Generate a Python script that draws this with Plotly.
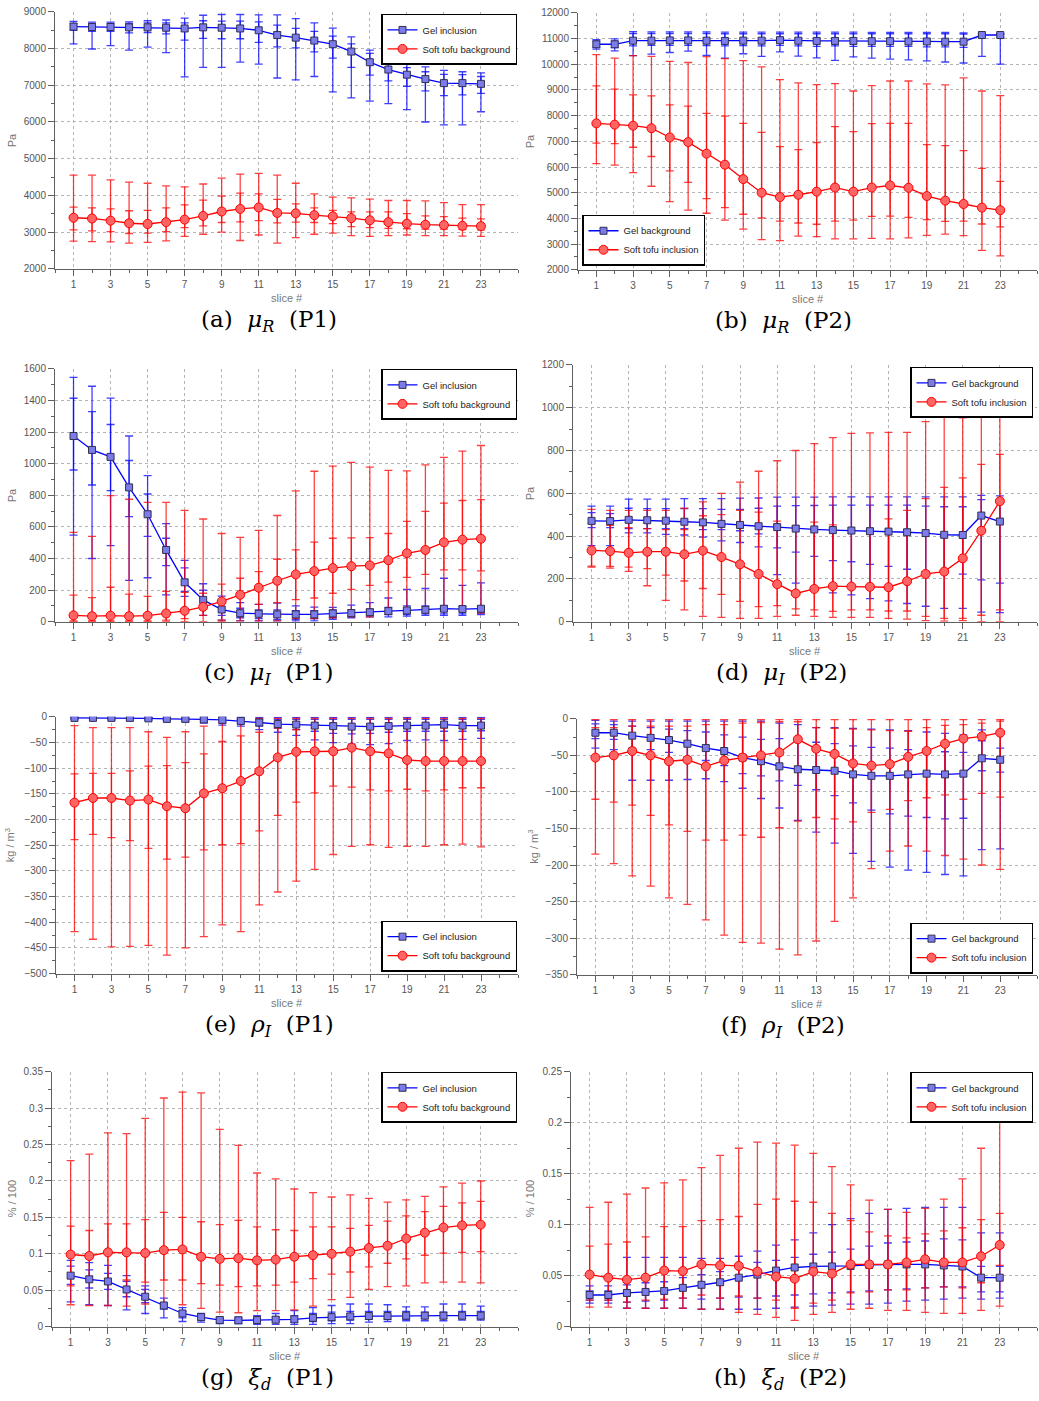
import plotly.graph_objects as go

W, H = 1039, 1401
SLICES = list(range(1, 24))

# ---------------- (a) mu_R P1 ----------------
A_BLUE = [8600,8590,8590,8580,8580,8570,8550,8580,8570,8550,8500,8370,8300,8220,8120,7920,7630,7430,7290,7170,7060,7060,7040]
A_BLUE_LO = [8130,7990,8080,7960,8040,7890,7230,7490,7490,7630,7580,7200,7150,7240,6820,6660,6570,6500,6340,6000,5920,5920,6280]
A_BLUE_HI = [8740,8720,8720,8730,8760,8780,8830,8910,8930,8930,8920,8920,8820,8700,8560,8320,7960,7720,7600,7500,7410,7370,7340]
A_BLUE_Q1 = [8500,8470,8470,8430,8440,8400,8230,8280,8270,8270,8170,8050,8020,7910,7740,7490,7280,7120,6970,6850,6720,6740,6780]
A_BLUE_Q3 = [8680,8680,8680,8690,8700,8700,8700,8760,8750,8750,8730,8640,8550,8470,8340,8130,7870,7660,7480,7370,7300,7290,7240]
A_RED = [3390,3370,3310,3240,3220,3270,3340,3440,3560,3630,3670,3520,3510,3460,3430,3380,3320,3270,3230,3200,3190,3170,3160]
A_RED_LO = [2750,2740,2730,2700,2720,2760,2880,2940,3000,2770,2920,2700,2850,2940,2970,2900,2880,2900,2920,2900,2900,2890,2880]
A_RED_HI = [4550,4550,4420,4360,4330,4260,4230,4310,4470,4580,4600,4550,4330,4040,3950,3930,3900,3860,3860,3850,3800,3750,3750]
A_RED_Q1 = [3060,3030,3010,2960,2970,3010,3120,3170,3260,3280,3310,3250,3270,3260,3230,3150,3120,3100,3090,3080,3080,3070,3060]
A_RED_Q3 = [3680,3660,3630,3580,3590,3660,3740,3870,3980,4060,4040,3890,3770,3660,3590,3550,3550,3550,3500,3440,3420,3380,3360]

# ---------------- (b) mu_R P2 ----------------
B_BLUE = [10780,10780,10920,10920,10930,10930,10920,10910,10920,10920,10940,10920,10910,10910,10910,10900,10900,10890,10890,10880,10880,11140,11140]
B_BLUE_LO = [10590,10520,10340,10400,10460,10510,10350,10240,10410,10310,10480,10320,10250,10150,10290,10240,10200,10170,10130,10090,10050,10310,10010]
B_BLUE_HI = [10960,10990,11270,11260,11260,11260,11260,11250,11250,11250,11250,11250,11250,11250,11250,11240,11240,11240,11240,11240,11220,11200,11180]
B_BLUE_Q1 = [10660,10650,10720,10740,10740,10740,10730,10720,10730,10720,10740,10720,10700,10720,10700,10700,10700,10700,10680,10680,10660,11050,11050]
B_BLUE_Q3 = [10900,10900,11200,11200,11200,11200,11200,11190,11190,11190,11190,11190,11190,11190,11190,11190,11190,11190,11190,11190,11180,11180,11180]
B_RED = [7700,7650,7610,7510,7150,6970,6520,6090,5530,5000,4830,4920,5040,5200,5040,5200,5280,5190,4870,4690,4560,4420,4320]
B_RED_LO = [6130,6070,5780,5250,4650,4320,4200,3930,3580,3170,3130,3310,3290,3200,3200,3220,3200,3240,3340,3390,3330,2750,2540]
B_RED_HI = [10380,10240,10340,10310,10110,10070,10300,10220,10140,9900,9400,9280,9210,9250,8960,9170,9350,9350,9240,9200,9470,8960,8780]
B_RED_Q1 = [6930,6910,6770,6410,5850,5400,4770,4420,4160,4020,3890,3820,3770,3890,3930,4080,4090,4040,3950,3880,3890,3780,3670]
B_RED_Q3 = [9160,9030,8810,8770,8420,8370,8090,7980,7700,7350,6790,6680,6950,7570,7380,7690,7700,7700,6870,6830,6640,5950,5440]

# ---------------- (c) mu_I P1 ----------------
C_BLUE = [1175,1087,1043,850,680,454,249,138,77,54,50,46,46,46,52,54,60,67,71,75,82,80,82]
C_BLUE_LO = [548,400,482,262,278,170,160,40,10,5,5,5,5,5,15,25,30,30,35,40,40,40,45]
C_BLUE_HI = [1546,1490,1415,1175,925,620,388,240,162,120,110,118,100,92,90,105,120,150,205,210,275,230,245]
C_BLUE_Q1 = [960,865,830,665,540,355,190,95,40,25,20,15,15,20,25,35,40,45,45,50,50,50,55]
C_BLUE_Q3 = [1414,1330,1248,1020,808,528,340,200,120,85,75,75,70,70,75,75,80,90,100,100,100,95,95]
C_RED = [40,35,38,35,38,52,69,94,128,170,215,259,299,320,339,351,356,389,433,454,502,519,525]
C_RED_LO = [0,0,0,0,0,0,0,0,0,5,5,5,20,20,25,30,30,50,60,60,70,65,55]
C_RED_HI = [565,540,798,775,755,755,705,650,558,533,578,672,828,952,985,1008,978,957,955,993,1040,1080,1115]
C_RED_Q1 = [5,5,5,5,5,10,20,40,10,70,110,120,140,150,180,205,230,250,280,300,328,328,322]
C_RED_Q3 = [168,152,218,175,160,192,185,180,238,275,317,395,455,503,528,530,532,558,635,698,750,767,773]

# ---------------- (d) mu_I P2 ----------------
D_BLUE = [471,470,476,474,472,467,464,457,452,446,442,435,431,428,426,423,421,418,414,406,405,496,468]
D_BLUE_LO = [355,355,415,415,408,405,395,378,370,350,220,180,160,135,125,108,97,85,72,62,62,45,42]
D_BLUE_HI = [540,540,573,573,573,575,575,575,577,578,582,582,582,583,583,583,583,583,583,583,583,590,588]
D_BLUE_Q1 = [440,440,435,435,435,435,430,430,425,410,345,325,305,285,280,268,258,245,235,235,222,195,180]
D_BLUE_Q3 = [510,505,530,528,528,528,528,525,525,530,540,542,543,545,545,545,545,545,540,537,537,570,565]
D_RED = [333,330,322,327,327,315,332,302,268,223,175,132,153,166,164,163,161,189,223,234,296,425,563]
D_RED_LO = [255,250,235,168,100,55,25,20,15,15,25,30,25,20,20,20,15,12,5,3,5,0,0]
D_RED_HI = [525,520,520,520,520,530,560,600,652,703,752,800,832,860,880,882,885,885,935,965,952,1022,1050]
D_RED_Q1 = [260,258,255,248,218,190,155,128,95,70,75,60,55,48,55,55,50,50,25,15,15,30,55]
D_RED_Q3 = [460,450,440,435,430,430,495,500,520,512,470,445,465,452,428,432,480,520,575,628,672,735,782]

# ---------------- (e) rho_I P1 ----------------
E_BLUE = [-2,-2,-2,-2,-3,-4,-4,-5,-6,-8,-11,-14,-15,-17,-18,-19,-19,-18,-17,-17,-15,-17,-17]
E_BLUE_LO = [-5,-6,-6,-7,-7,-8,-9,-12,-16,-18,-25,-30,-36,-45,-50,-53,-54,-52,-46,-45,-46,-44,-42]
E_BLUE_HI = [0,0,0,0,0,0,0,0,0,0,-1,-1,-1,-1,-1,-1,-1,-1,-1,-1,-1,-1,-1]
E_BLUE_Q1 = [-3,-4,-4,-4,-5,-6,-6,-8,-10,-13,-18,-22,-25,-28,-32,-33,-32,-30,-28,-28,-28,-28,-27]
E_BLUE_Q3 = [-1,-1,-1,-1,-1,-2,-2,-2,-2,-3,-4,-5,-5,-5,-5,-5,-5,-5,-5,-5,-5,-5,-5]
E_RED = [-167,-158,-158,-163,-161,-174,-178,-149,-139,-125,-106,-79,-68,-67,-67,-60,-67,-71,-84,-86,-86,-86,-86]
E_RED_LO = [-418,-433,-448,-447,-445,-464,-450,-428,-405,-418,-366,-341,-320,-297,-268,-252,-249,-254,-252,-252,-249,-248,-253]
E_RED_HI = [-17,-21,-21,-21,-29,-40,-29,-18,-12,-5,-3,-3,-3,-3,-3,-3,-3,-3,-3,-3,-3,-3,-3]
E_RED_Q1 = [-239,-229,-235,-241,-256,-277,-273,-259,-249,-247,-222,-192,-166,-148,-135,-137,-142,-144,-141,-144,-142,-138,-138]
E_RED_Q3 = [-111,-110,-110,-105,-96,-95,-89,-72,-48,-37,-30,-22,-25,-22,-22,-22,-22,-22,-22,-22,-22,-22,-22]

# ---------------- (f) rho_I P2 ----------------
F_BLUE = [-19,-19,-23,-26,-29,-34,-40,-44,-53,-58,-65,-69,-70,-71,-76,-78,-78,-76,-75,-76,-75,-54,-56]
F_BLUE_LO = [-40,-42,-84,-84,-84,-83,-82,-86,-95,-109,-122,-139,-155,-170,-184,-195,-203,-207,-210,-213,-215,-179,-178]
F_BLUE_HI = [-2,-3,-3,-3,-3,-3,-3,-3,-3,-3,-6,-8,-12,-12,-13,-14,-15,-16,-18,-20,-22,-15,-18]
F_BLUE_Q1 = [-27,-28,-40,-42,-46,-52,-57,-64,-75,-78,-85,-91,-97,-105,-115,-125,-130,-133,-135,-137,-136,-71,-73]
F_BLUE_Q3 = [-7,-8,-10,-12,-14,-16,-18,-22,-25,-28,-27,-28,-32,-34,-37,-39,-40,-42,-41,-45,-46,-30,-40]
F_RED = [-53,-50,-44,-50,-58,-56,-65,-57,-53,-50,-46,-28,-41,-48,-61,-64,-62,-52,-44,-34,-27,-24,-19]
F_RED_LO = [-185,-198,-215,-229,-245,-254,-275,-296,-306,-307,-315,-323,-304,-277,-245,-205,-181,-174,-181,-187,-192,-200,-206]
F_RED_HI = [-1,-1,-1,-1,-1,-1,-1,-1,-1,-1,-1,-1,-1,-1,-1,-1,-1,-1,-1,-1,-1,-1,-1]
F_RED_Q1 = [-110,-114,-118,-132,-145,-154,-166,-166,-159,-162,-149,-140,-135,-137,-141,-128,-124,-112,-108,-104,-110,-102,-107]
F_RED_Q3 = [-12,-12,-10,-10,-10,-10,-8,-8,-6,-5,-4,-4,-12,-13,-14,-15,-16,-17,-12,-9,-8,-6,-3]

# ---------------- (g) xi_d P1 ----------------
G_BLUE = [0.070,0.065,0.062,0.051,0.041,0.029,0.018,0.013,0.009,0.0086,0.009,0.0095,0.010,0.012,0.013,0.014,0.0145,0.0145,0.015,0.015,0.015,0.015,0.015]
G_BLUE_LO = [0.034,0.030,0.029,0.023,0.018,0.012,0.007,0.006,0.004,0.004,0.003,0.003,0.003,0.003,0.004,0.004,0.006,0.007,0.008,0.008,0.008,0.009,0.009]
G_BLUE_HI = [0.091,0.088,0.084,0.070,0.056,0.039,0.026,0.018,0.013,0.013,0.015,0.018,0.022,0.026,0.029,0.031,0.031,0.030,0.027,0.027,0.031,0.031,0.028]
G_BLUE_Q1 = [0.058,0.053,0.051,0.041,0.033,0.024,0.012,0.009,0.006,0.006,0.006,0.006,0.006,0.007,0.008,0.009,0.010,0.010,0.010,0.011,0.011,0.011,0.011]
G_BLUE_Q3 = [0.083,0.078,0.073,0.062,0.051,0.033,0.021,0.015,0.011,0.011,0.012,0.013,0.015,0.018,0.020,0.021,0.021,0.021,0.021,0.020,0.020,0.021,0.021]
G_RED = [0.099,0.097,0.102,0.102,0.101,0.105,0.106,0.096,0.093,0.094,0.091,0.092,0.096,0.098,0.100,0.103,0.108,0.111,0.121,0.129,0.136,0.139,0.140]
G_RED_LO = [0.030,0.029,0.029,0.028,0.031,0.030,0.030,0.025,0.020,0.019,0.022,0.022,0.023,0.028,0.037,0.040,0.051,0.055,0.056,0.060,0.061,0.061,0.060]
G_RED_HI = [0.228,0.237,0.266,0.265,0.286,0.314,0.322,0.321,0.271,0.249,0.211,0.203,0.189,0.184,0.178,0.181,0.176,0.171,0.174,0.179,0.192,0.197,0.200]
G_RED_Q1 = [0.056,0.064,0.063,0.064,0.061,0.064,0.064,0.059,0.057,0.055,0.056,0.057,0.061,0.066,0.072,0.075,0.082,0.087,0.093,0.098,0.101,0.102,0.103]
G_RED_Q3 = [0.138,0.132,0.141,0.141,0.147,0.157,0.150,0.144,0.140,0.146,0.137,0.133,0.132,0.137,0.137,0.135,0.139,0.145,0.152,0.158,0.165,0.170,0.172]

# ---------------- (h) xi_d P2 ----------------
H_BLUE = [0.031,0.031,0.033,0.034,0.035,0.038,0.041,0.0435,0.048,0.051,0.055,0.058,0.059,0.059,0.0595,0.0605,0.061,0.061,0.061,0.060,0.059,0.048,0.048]
H_BLUE_LO = [0.023,0.023,0.018,0.018,0.018,0.018,0.017,0.017,0.017,0.017,0.018,0.019,0.020,0.021,0.022,0.022,0.023,0.025,0.026,0.027,0.028,0.027,0.028]
H_BLUE_HI = [0.040,0.040,0.068,0.068,0.068,0.068,0.067,0.067,0.069,0.074,0.080,0.085,0.092,0.100,0.106,0.111,0.115,0.116,0.117,0.117,0.117,0.092,0.092]
H_BLUE_Q1 = [0.026,0.026,0.024,0.025,0.026,0.028,0.027,0.028,0.029,0.028,0.030,0.031,0.032,0.033,0.034,0.035,0.036,0.037,0.038,0.039,0.039,0.034,0.034]
H_BLUE_Q3 = [0.035,0.035,0.041,0.043,0.044,0.048,0.051,0.054,0.060,0.063,0.065,0.068,0.071,0.073,0.076,0.079,0.082,0.083,0.084,0.086,0.085,0.059,0.059]
H_RED = [0.051,0.048,0.046,0.048,0.055,0.0545,0.061,0.060,0.0595,0.054,0.049,0.047,0.054,0.052,0.061,0.061,0.061,0.063,0.066,0.063,0.063,0.069,0.080]
H_RED_LO = [0.019,0.019,0.018,0.018,0.018,0.018,0.017,0.017,0.014,0.012,0.009,0.006,0.012,0.014,0.017,0.018,0.016,0.016,0.014,0.013,0.013,0.016,0.020]
H_RED_HI = [0.117,0.122,0.130,0.136,0.141,0.144,0.156,0.168,0.175,0.181,0.180,0.178,0.170,0.157,0.139,0.124,0.115,0.112,0.116,0.125,0.145,0.175,0.203]
H_RED_Q1 = [0.026,0.026,0.024,0.026,0.027,0.028,0.031,0.028,0.030,0.028,0.026,0.018,0.023,0.026,0.033,0.034,0.036,0.036,0.038,0.039,0.038,0.043,0.060]
H_RED_Q3 = [0.079,0.081,0.083,0.088,0.098,0.098,0.104,0.105,0.108,0.120,0.125,0.123,0.122,0.111,0.104,0.093,0.089,0.087,0.091,0.094,0.097,0.105,0.111]

# ---------------- labels ----------------
LEFT_NAMES = ["Gel inclusion", "Soft tofu background"]
RIGHT_NAMES = ["Gel background", "Soft tofu inclusion"]
CAPTIONS = ["(a)  <i>μ</i><sub><i>R</i></sub>  (P1)", "(b)  <i>μ</i><sub><i>R</i></sub>  (P2)",
            "(c)  <i>μ</i><sub><i>I</i></sub>  (P1)", "(d)  <i>μ</i><sub><i>I</i></sub>  (P2)",
            "(e)  <i>ρ</i><sub><i>I</i></sub>  (P1)", "(f)  <i>ρ</i><sub><i>I</i></sub>  (P2)",
            "(g)  <i>ξ</i><sub><i>d</i></sub>  (P1)", "(h)  <i>ξ</i><sub><i>d</i></sub>  (P2)"]
YLABELS = ["Pa", "Pa", "Pa", "Pa", "kg / m<sup>3</sup>", "kg / m<sup>3</sup>", "% / 100", "% / 100"]
YRANGES = [(2000, 9000), (2000, 12000), (0, 1600), (0, 1200), (-500, 0), (-350, 0), (0, 0.35), (0, 0.25)]
YDTICK = [1000, 1000, 200, 200, 50, 50, 0.05, 0.05]
YFORMAT = ["d", "d", "d", "d", "d", "d", "", ""]

DATA = [
    ((A_BLUE, A_BLUE_LO, A_BLUE_HI, A_BLUE_Q1, A_BLUE_Q3), (A_RED, A_RED_LO, A_RED_HI, A_RED_Q1, A_RED_Q3)),
    ((B_BLUE, B_BLUE_LO, B_BLUE_HI, B_BLUE_Q1, B_BLUE_Q3), (B_RED, B_RED_LO, B_RED_HI, B_RED_Q1, B_RED_Q3)),
    ((C_BLUE, C_BLUE_LO, C_BLUE_HI, C_BLUE_Q1, C_BLUE_Q3), (C_RED, C_RED_LO, C_RED_HI, C_RED_Q1, C_RED_Q3)),
    ((D_BLUE, D_BLUE_LO, D_BLUE_HI, D_BLUE_Q1, D_BLUE_Q3), (D_RED, D_RED_LO, D_RED_HI, D_RED_Q1, D_RED_Q3)),
    ((E_BLUE, E_BLUE_LO, E_BLUE_HI, E_BLUE_Q1, E_BLUE_Q3), (E_RED, E_RED_LO, E_RED_HI, E_RED_Q1, E_RED_Q3)),
    ((F_BLUE, F_BLUE_LO, F_BLUE_HI, F_BLUE_Q1, F_BLUE_Q3), (F_RED, F_RED_LO, F_RED_HI, F_RED_Q1, F_RED_Q3)),
    ((G_BLUE, G_BLUE_LO, G_BLUE_HI, G_BLUE_Q1, G_BLUE_Q3), (G_RED, G_RED_LO, G_RED_HI, G_RED_Q1, G_RED_Q3)),
    ((H_BLUE, H_BLUE_LO, H_BLUE_HI, H_BLUE_Q1, H_BLUE_Q3), (H_RED, H_RED_LO, H_RED_HI, H_RED_Q1, H_RED_Q3)),
]

# plot-area boxes in pixels: (left, right, top, bottom)
BOXES = [(55, 518, 6, 265), (578, 1037, 7, 266),
         (55, 518, 366, 621), (573, 1037, 362, 621),
         (56, 518, 717, 976), (577, 1037, 719, 977),
         (52, 518, 1075, 1332), (571, 1037, 1075, 1332)]
# legend anchor: (x px, y px, xanchor, yanchor)
LEGPOS = [(517, 8, "right", "top"), (582, 262, "left", "bottom"),
          (517, 366, "right", "top"), (1033, 364, "right", "top"),
          (517, 974, "right", "bottom"), (1033, 976, "right", "bottom"),
          (517, 1075, "right", "top"), (1033, 1075, "right", "top")]
YLAB_X = [12, 530, 12, 530, 10, 533, 12, 530]
CAP_SHIFT = [-18, -24, -18, -24, -18, -24, -18, -24]

SANS = "Liberation Sans, Arial, sans-serif"
SERIF = "DejaVu Serif, Liberation Serif, serif"
AXIS_GREY = "#606060"
BLUE = "#0000ff"
RED = "#ff0000"

fig = go.Figure()
layout = dict(width=W, height=H, margin=dict(l=0, r=0, t=0, b=0),
              paper_bgcolor="white", plot_bgcolor="white", showlegend=True,
              annotations=[])


def px2x(p):
    return p / W


def px2y(p):
    return 1 - p / H


for i in range(8):
    sfx = "" if i == 0 else str(i + 1)
    xa, ya = "x" + sfx, "y" + sfx
    leg = "legend" + sfx
    names = LEFT_NAMES if i % 2 == 0 else RIGHT_NAMES
    blue, red = DATA[i]
    for (mean, lo, hi, q1, q3), rgba in ((blue, "rgba(0,0,255,0.75)"),
                                         (red, "rgba(255,0,0,0.75)")):
        outer_p = [max(h - m, 0) for h, m in zip(hi, mean)]
        outer_m = [max(m - l, 0) for m, l in zip(mean, lo)]
        inner_p = [max(h - m, 0) for h, m in zip(q3, mean)]
        inner_m = [max(m - l, 0) for m, l in zip(mean, q1)]
        for ep, em in ((outer_p, outer_m), (inner_p, inner_m)):
            fig.add_trace(go.Scatter(
                x=SLICES, y=mean, xaxis=xa, yaxis=ya, mode="markers",
                marker=dict(size=1, color="rgba(0,0,0,0)"), showlegend=False,
                hoverinfo="skip",
                error_y=dict(type="data", symmetric=False, array=ep, arrayminus=em,
                             color=rgba, thickness=1.3, width=4)))
    fig.add_trace(go.Scatter(
        x=SLICES, y=blue[0], xaxis=xa, yaxis=ya, mode="lines+markers", name=names[0],
        legend=leg, line=dict(color=BLUE, width=1.3),
        marker=dict(symbol="square", size=7, color="#7b7bea", line=dict(color="#303050", width=1))))
    fig.add_trace(go.Scatter(
        x=SLICES, y=red[0], xaxis=xa, yaxis=ya, mode="lines+markers", name=names[1],
        legend=leg, line=dict(color=RED, width=1.3),
        marker=dict(symbol="circle", size=9, color="#ff6464", line=dict(color=RED, width=1))))

    l, r, t, b = BOXES[i]
    layout["xaxis" + sfx] = dict(
        domain=[px2x(l), px2x(r)], anchor=ya, range=[0, 25],
        tickmode="array", tickvals=list(range(1, 24, 2)),
        ticks="outside", ticklen=6, tickwidth=1, tickcolor=AXIS_GREY,
        showline=True, linecolor=AXIS_GREY, linewidth=1, mirror=False,
        showgrid=True, gridcolor="#b4b4b4", griddash="dot", gridwidth=1,
        zeroline=False, tickfont=dict(family=SANS, size=10, color="#555555"),
        minor=dict(tickmode="array", tickvals=list(range(0, 26)), ticks="outside",
                   ticklen=3, tickcolor=AXIS_GREY, showgrid=False))
    y0, y1 = YRANGES[i]
    yax = dict(
        domain=[px2y(b), px2y(t)], anchor=xa, range=[y0, y1],
        dtick=YDTICK[i], tick0=0, ticks="outside", ticklen=6, tickwidth=1,
        tickcolor=AXIS_GREY, showline=True, linecolor=AXIS_GREY, linewidth=1,
        showgrid=True, gridcolor="#b4b4b4", griddash="dot", gridwidth=1,
        zeroline=False, exponentformat="none",
        tickfont=dict(family=SANS, size=10, color="#555555"),
        minor=dict(dtick=YDTICK[i] / 2, ticks="outside", ticklen=3,
                   tickcolor=AXIS_GREY, showgrid=False))
    if YFORMAT[i]:
        yax["tickformat"] = YFORMAT[i]
    layout["yaxis" + sfx] = yax
    lx, ly, xan, yan = LEGPOS[i]
    layout[leg] = dict(x=px2x(lx), y=px2y(ly), xanchor=xan, yanchor=yan,
                       xref="paper", yref="paper",
                       bgcolor="white", bordercolor="black", borderwidth=1.5,
                       font=dict(family=SANS, size=9.5, color="#222222"),
                       itemwidth=30, tracegroupgap=0)

    cx = (l + r) / 2
    layout["annotations"].append(dict(
        x=px2x(cx), y=px2y(b + 30), xref="paper", yref="paper", text="slice #",
        showarrow=False, font=dict(family=SANS, size=11, color="#777777"),
        xanchor="center", yanchor="middle"))
    layout["annotations"].append(dict(
        x=px2x(cx + CAP_SHIFT[i]), y=px2y(b + 36), xref="paper", yref="paper", text=CAPTIONS[i],
        showarrow=False, font=dict(family=SERIF, size=23, color="black"),
        xanchor="center", yanchor="top"))
    layout["annotations"].append(dict(
        x=px2x(YLAB_X[i]), y=px2y((t + b) / 2), xref="paper", yref="paper",
        text=YLABELS[i], textangle=-90, showarrow=False,
        font=dict(family=SANS, size=11, color="#777777"),
        xanchor="center", yanchor="middle"))

fig.update_layout(**layout)
fig.write_html("out.html")
